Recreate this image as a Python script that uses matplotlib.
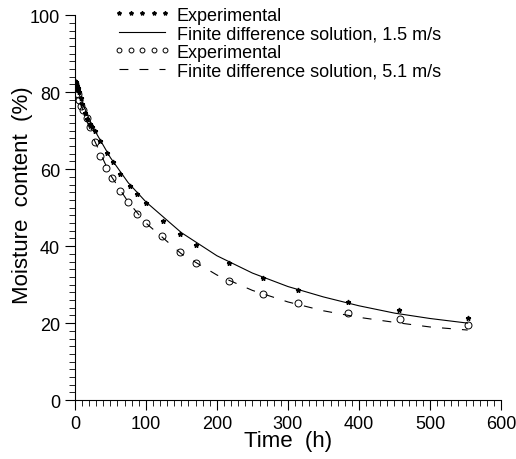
import numpy as np
import matplotlib
matplotlib.use('Agg')
import matplotlib.pyplot as plt
from matplotlib.ticker import MultipleLocator

# Experimental points, 1.5 m/s (stars)
t_exp1 = [0, 1, 2, 3, 4, 5, 6, 8, 10, 14, 17, 21, 24, 28, 35, 45, 54, 64, 77, 88,
          100, 124, 148, 171, 217, 265, 314, 385, 457, 553]
m_exp1 = [83, 82.5, 82, 81.5, 81, 80.5, 80, 78.5, 77, 74.5, 73, 71.8, 71, 70, 67.3,
          64.2, 61.8, 58.7, 55.5, 53.5, 51.2, 46.6, 43.2, 40.3, 35.5, 31.6, 28.6,
          25.5, 23.5, 21.2]

# Experimental points, 5.1 m/s (circles)
t_exp2 = [0, 2, 4, 6, 9, 12, 17, 22, 28, 36, 44, 52, 64, 75, 88, 100, 123, 148, 171,
          217, 265, 314, 384, 458, 553]
m_exp2 = [82, 81, 79.5, 78, 76.5, 75.3, 73.2, 71, 67, 63.5, 60.4, 57.7, 54.4, 51.5,
          48.3, 46.1, 42.5, 38.5, 35.5, 31, 27.5, 25.2, 22.5, 21, 19.5]

# Finite difference solutions
t_fd = [0, 5, 10, 25, 50, 75, 100, 150, 200, 250, 300, 350, 400, 450, 500, 553]
m_fd1 = [83.5, 80, 77.5, 71, 63, 56.5, 51.5, 43.5, 37.5, 33, 29.5, 26.8, 24.5, 22.6, 21.2, 20]
m_fd2 = [82.5, 79, 76, 68.5, 58.5, 51.5, 46, 38, 32.5, 28.5, 25.5, 23.2, 21.5, 20.2, 19, 18.2]

plt.rcParams['font.family'] = ['Liberation Sans', 'DejaVu Sans']

fig = plt.figure(figsize=(5.16, 4.6), dpi=100)
ax = fig.add_axes([0.145, 0.128, 0.826, 0.837])

ax.plot(t_exp1, m_exp1, linestyle='none', marker='*', markersize=3.5, color='black',
        label='Experimental')
ax.plot(t_fd, m_fd1, '-', color='black', linewidth=0.8,
        label='Finite difference solution, 1.5 m/s')
ax.plot(t_exp2, m_exp2, linestyle='none', marker='o', markersize=5, color='black',
        fillstyle='none', markeredgewidth=0.7, label='Experimental')
ax.plot(t_fd, m_fd2, color='black', linewidth=0.8, dashes=(8, 10),
        label='Finite difference solution, 5.1 m/s')

ax.set_xlim(0, 600)
ax.set_ylim(0, 100)
ax.xaxis.set_major_locator(MultipleLocator(100))
ax.xaxis.set_minor_locator(MultipleLocator(10))
ax.yaxis.set_major_locator(MultipleLocator(20))
ax.yaxis.set_minor_locator(MultipleLocator(2))
ax.tick_params(which='major', length=7, width=0.8, labelsize=13, color='black')
ax.tick_params(which='minor', length=4, width=0.6)
ax.spines['top'].set_visible(False)
ax.spines['right'].set_visible(False)

ax.set_xlabel('Time  (h)', fontsize=16, labelpad=-1)
ax.set_ylabel('Moisture  content  (%)', fontsize=16)
ax.yaxis.set_label_coords(-0.099, 0.535)

leg = ax.legend(loc='upper left', bbox_to_anchor=(0.07, 1.045), frameon=False,
                fontsize=13, numpoints=5, handlelength=3.15, handletextpad=0.35,
                labelspacing=0.08, borderpad=0)
# smaller symbols in the legend, as in the original
for h in leg.legend_handles:
    if h.get_marker() == '*':
        h.set_markersize(3)
    elif h.get_marker() == 'o':
        h.set_markersize(3.5)

plt.savefig('out.png', dpi=100)
plt.close()
